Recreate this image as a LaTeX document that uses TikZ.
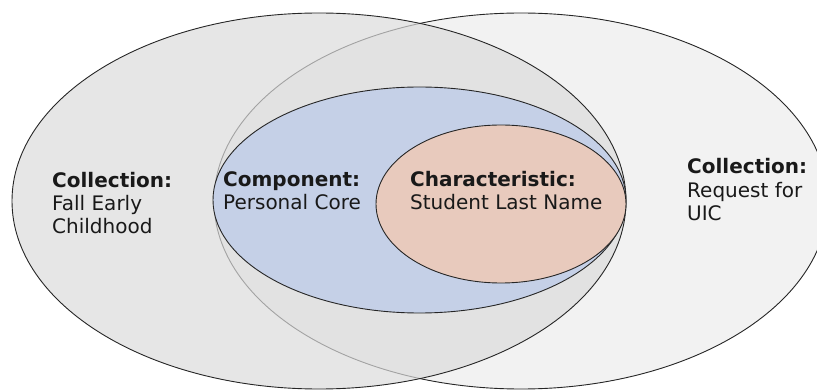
\documentclass[tikz,border=0pt]{standalone}
\usepackage{fontspec}
\setmainfont{DejaVu Sans}
\begin{document}
\begin{tikzpicture}[x=1pt,y=-1pt,
  outline/.style={draw=black!85, line width=0.9pt},
  lbl/.style={anchor=base west, inner sep=0pt, align=left, text=black!90,
    font={\fontsize{20}{23.5}\selectfont}}]
\definecolor{rightgray}{HTML}{F2F2F2}
\definecolor{leftgray}{HTML}{DBDBDB}
\definecolor{compblue}{HTML}{C5D0E7}
\definecolor{charpeach}{HTML}{E8CABD}
\useasboundingbox (0,0) rectangle (817,390);
\clip (0,0) rectangle (817,390);
\path[outline, fill=rightgray] (521,201) ellipse [x radius=307, y radius=188];
\path[outline, fill=leftgray, fill opacity=0.69] (319,201) ellipse [x radius=307, y radius=188];
\path[outline, fill=compblue] (419.5,200) ellipse [x radius=206.5, y radius=113];
\path[outline, fill=charpeach] (501,204) ellipse [x radius=125, y radius=79];
\node[lbl] (fall) at (52,234) {\textbf{Collection:}\\Fall Early\\Childhood};
\node[lbl] (comp) at (223,210) {\textbf{Component:}\\Personal Core};
\node[lbl] (char) at (410,210) {\textbf{Characteristic:}\\Student Last Name};
\node[lbl] (uic) at (687,221) {\textbf{Collection:}\\Request for\\UIC};
\end{tikzpicture}
\end{document}
